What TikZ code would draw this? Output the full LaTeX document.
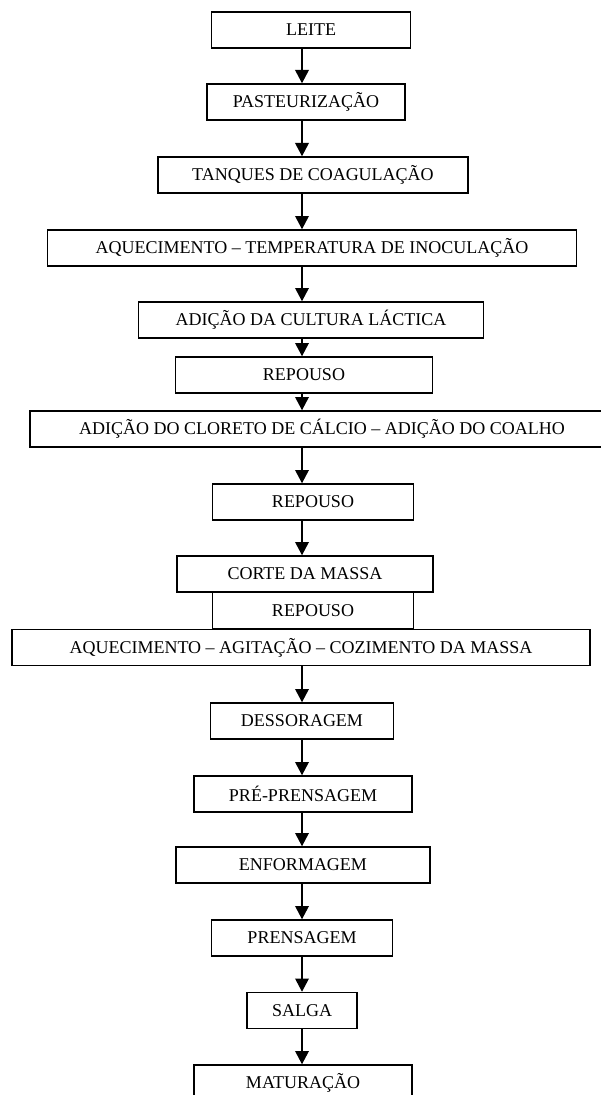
\documentclass[tikz,border=0pt]{standalone}
\usepackage{fontspec}
\setmainfont{Liberation Serif}
\usetikzlibrary{arrows.meta}
\newcommand{\px}{0.75pt}
\tikzstyle{etapa}=[draw,rectangle,line width=1pt,minimum height=27pt,inner sep=0pt,font=\fontsize{13.5}{16}\selectfont]
\tikzstyle{seta}=[line width=1.8pt,-{Triangle[length=10pt,width=10pt]}]

\begin{document}
\begin{tikzpicture}[x=\px,y=-\px]
\useasboundingbox (0,0) rectangle (600,1095);
\coordinate (eixo) at (302,0);
    \node[etapa,minimum width=199*\px] (leite)   at (311,30)     {LEITE};
    \node[etapa,minimum width=198*\px] (pasteur) at (306,102)    {PASTEURIZAÇÃO};
    \node[etapa,minimum width=310*\px] (tanques) at (313,175)    {TANQUES DE COAGULAÇÃO};
    \node[etapa,minimum width=529*\px] (aquec)   at (312,248)    {AQUECIMENTO – TEMPERATURA DE INOCULAÇÃO};
    \node[etapa,minimum width=345*\px] (cultura) at (311,320)    {ADIÇÃO DA CULTURA LÁCTICA};
    \node[etapa,minimum width=257*\px] (repA)    at (304,375)    {REPOUSO};
    \node[etapa,minimum width=584*\px] (cloreto) at (322,429)    {ADIÇÃO DO CLORETO DE CÁLCIO – ADIÇÃO DO COALHO};
    \node[etapa,minimum width=201*\px] (repB)    at (313,502)    {REPOUSO};
    \node[etapa,minimum width=256*\px] (corte)   at (305,574)    {CORTE DA MASSA};
    \node[etapa,minimum width=201*\px] (repC)    at (313,610.5)  {REPOUSO};
    \node[etapa,minimum width=578*\px] (cozim)   at (301,647.5)  {AQUECIMENTO – AGITAÇÃO – COZIMENTO DA MASSA};
    \node[etapa,minimum width=183*\px] (dessor)  at (302,721)    {DESSORAGEM};
    \node[etapa,minimum width=218*\px] (prepren) at (303,794)    {PRÉ-PRENSAGEM};
    \node[etapa,minimum width=254*\px] (enform)  at (303,865)    {ENFORMAGEM};
    \node[etapa,minimum width=181*\px] (prensa)  at (302,938)    {PRENSAGEM};
    \node[etapa,minimum width=110*\px] (salga)   at (302,1010.5) {SALGA};
    \node[etapa,minimum width=218*\px] (matur)   at (303,1083)   {MATURAÇÃO};
    \draw[seta] (leite.south -| eixo)   -- (pasteur.north -| eixo);
    \draw[seta] (pasteur.south -| eixo) -- (tanques.north -| eixo);
    \draw[seta] (tanques.south -| eixo) -- (aquec.north -| eixo);
    \draw[seta] (aquec.south -| eixo)   -- (cultura.north -| eixo);
    \draw[seta] (cultura.south -| eixo) -- (repA.north -| eixo);
    \draw[seta] (repA.south -| eixo)    -- (cloreto.north -| eixo);
    \draw[seta] (cloreto.south -| eixo) -- (repB.north -| eixo);
    \draw[seta] (repB.south -| eixo)    -- (corte.north -| eixo);
    \draw[seta] (cozim.south -| eixo)   -- (dessor.north -| eixo);
    \draw[seta] (dessor.south -| eixo)  -- (prepren.north -| eixo);
    \draw[seta] (prepren.south -| eixo) -- (enform.north -| eixo);
    \draw[seta] (enform.south -| eixo)  -- (prensa.north -| eixo);
    \draw[seta] (prensa.south -| eixo)  -- (salga.north -| eixo);
    \draw[seta] (salga.south -| eixo)   -- (matur.north -| eixo);
\end{tikzpicture}
\end{document}
